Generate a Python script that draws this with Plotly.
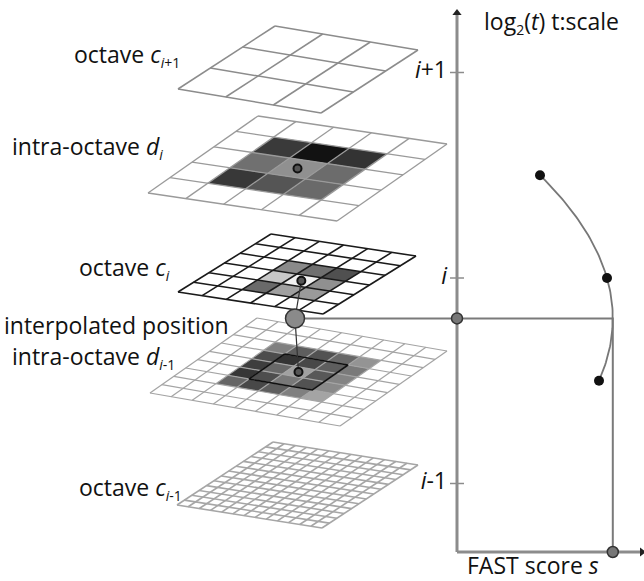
import numpy as np
import plotly.graph_objects as go

# ---------------- data ----------------
# keypoint detections: log2-scale offset (relative to octave i) and FAST score
scale_levels = [0.5, 0.0, -0.5]          # d_i, c_i, d_{i-1}
fast_scores = [83, 150, 142]

tick_vals = [-1, 0, 1]
tick_text = ["<i>i</i>-1", "<i>i</i>", "<i>i</i>+1"]


def sub(s):
    return f"<sub><span style='font-size:14px'>{s}</span></sub>"


layer_labels = [
    "octave <i>c</i>" + sub("<i>i</i>+1"),
    "intra-octave <i>d</i>" + sub("<i>i</i>"),
    "octave <i>c</i>" + sub("<i>i</i>"),
    "interpolated position",
    "intra-octave <i>d</i>" + sub("<i>i</i>-1"),
    "octave <i>c</i>" + sub("<i>i</i>-1"),
]
grid_sizes = [3, 5, 6, 9, 13]            # cells per side: c_{i+1}, d_i, c_i, d_{i-1}, c_{i-1}

# grey levels (0-255) of the neighbourhood cells around each detection
shade_di = [[0x3a, 0x12, 0x33],
            [0x70, 0x90, 0x6c],
            [0x38, 0x55, 0x6a]]
shade_ci = [[0x8a, 0x70, 0x50],
            [0xc8, 0xf0, 0x90],
            [0x6a, 0xa0, 0x9a]]
shade_dim1 = [[0x80, 0x5e, 0x52, 0x68, 0x94],
              [0x4c, 0x34, 0x48, 0x5e, 0x7a],
              [0x3e, 0x68, 0xa0, 0x58, 0x84],
              [0x36, 0x4e, 0x78, 0x52, 0x8a],
              [0x66, 0x48, 0x5e, 0x80, 0xa4]]

# ---------------- layout geometry (pixels) ----------------
W, H = 644, 581
X0_PIX = 457           # pixel of score 0 (vertical axis)
Y0_PIX = 278           # pixel of scale i
PX_PER_LEVEL = 205.5
Y_BOTTOM_PIX = 552
Y_TOP_PIX = 13
X_RIGHT_PIX = 640

x2_range = [-X0_PIX, W - X0_PIX]
y2_range = [-(H - Y0_PIX) / PX_PER_LEVEL, Y0_PIX / PX_PER_LEVEL]


def lvl_to_pix(v):
    return Y0_PIX - v * PX_PER_LEVEL


def pix_to_lvl(p):
    return (Y0_PIX - p) / PX_PER_LEVEL


# parallelogram grids: top corner, u edge, v edge, line colour, line width
grids = [
    dict(P=(275, 26), U=(143, 24), V=(-97, 63), col="#8c8c8c", lw=1.5),
    dict(P=(258, 116), U=(189, 28), V=(-110, 77), col="#9a9a9a", lw=1.3),
    dict(P=(271, 234), U=(145, 22), V=(-93, 58), col="#1a1a1a", lw=1.6),
    dict(P=(257, 318), U=(190, 33), V=(-107, 75), col="#a4a4a4", lw=1.2),
    dict(P=(273, 442), U=(145, 23), V=(-96, 63), col="#a6a6a6", lw=1.6),
]


def gpt(g, n, a, b):
    P, U, V = g["P"], g["U"], g["V"]
    return (P[0] + a / n * U[0] + b / n * V[0], P[1] + a / n * U[1] + b / n * V[1])


fig = go.Figure()
shapes = []


def add_cells(gi, shade, c0, r0):
    g = grids[gi]
    n = grid_sizes[gi]
    for r, row in enumerate(shade):
        for c, val in enumerate(row):
            a, b = c0 + c, r0 + r
            pts = [gpt(g, n, a, b), gpt(g, n, a + 1, b), gpt(g, n, a + 1, b + 1), gpt(g, n, a, b + 1)]
            path = "M " + " L ".join(f"{x:.2f},{y:.2f}" for x, y in pts) + " Z"
            shapes.append(dict(type="path", path=path, xref="x", yref="y",
                               fillcolor=f"rgb({val},{val},{val})", line=dict(width=0), layer="below"))


add_cells(1, shade_di, 1, 1)
add_cells(2, shade_ci, 2, 2)
add_cells(3, shade_dim1, 2, 2)

# grid lines
for gi, g in enumerate(grids):
    n = grid_sizes[gi]
    xs, ys = [], []
    for k in range(n + 1):
        p1, p2 = gpt(g, n, k, 0), gpt(g, n, k, n)
        xs += [p1[0], p2[0], None]
        ys += [p1[1], p2[1], None]
        p1, p2 = gpt(g, n, 0, k), gpt(g, n, n, k)
        xs += [p1[0], p2[0], None]
        ys += [p1[1], p2[1], None]
    fig.add_trace(go.Scatter(x=xs, y=ys, mode="lines", xaxis="x", yaxis="y",
                             line=dict(color=g["col"], width=g["lw"]), hoverinfo="skip"))

# black square around 3x3 neighbourhood in d_{i-1}
g = grids[3]
n = grid_sizes[3]
sq = [gpt(g, n, 3, 3), gpt(g, n, 6, 3), gpt(g, n, 6, 6), gpt(g, n, 3, 6), gpt(g, n, 3, 3)]
fig.add_trace(go.Scatter(x=[p[0] for p in sq], y=[p[1] for p in sq], mode="lines",
                         line=dict(color="#111111", width=1.6), hoverinfo="skip"))

# ---------------- parabola fit through the three scores ----------------
coef = np.polyfit(scale_levels, fast_scores, 2)   # s(level)
lvl_max = -coef[1] / (2 * coef[0])
s_max = np.polyval(coef, lvl_max)
lv = np.linspace(min(scale_levels), max(scale_levels), 80)
sv = np.polyval(coef, lv)

# detection centres on the grids
c_di = gpt(grids[1], 5, 2.5, 2.5)
c_ci = gpt(grids[2], 6, 3.5, 3.5)
c_dim1 = gpt(grids[3], 9, 4.5, 4.5)
big_x_pix = 295
big_y_pix = lvl_to_pix(lvl_max)

# connector through the layers
fig.add_trace(go.Scatter(x=[c_ci[0], big_x_pix, c_dim1[0]], y=[c_ci[1], big_y_pix, c_dim1[1]],
                         mode="lines", line=dict(color="#333333", width=1.2), hoverinfo="skip"))
fig.add_trace(go.Scatter(x=[c_di[0], c_ci[0], c_dim1[0]], y=[c_di[1], c_ci[1], c_dim1[1]],
                         mode="markers", marker=dict(size=8, color="#555555",
                                                     line=dict(color="#111111", width=2)),
                         hoverinfo="skip"))

# ---------------- chart (x2 / y2 : FAST score vs log2 scale) ----------------
ybot = pix_to_lvl(Y_BOTTOM_PIX)
ytop = pix_to_lvl(Y_TOP_PIX)
xright = X_RIGHT_PIX - X0_PIX
big_score = big_x_pix - X0_PIX
axis_col = "#8c8c8c"

# horizontal line from the interpolated position to the maximum and vertical drop
fig.add_trace(go.Scatter(x=[big_score, s_max, s_max], y=[lvl_max, lvl_max, ybot], xaxis="x2", yaxis="y2",
                         mode="lines", line=dict(color="#7a7a7a", width=2), hoverinfo="skip"))
# axes
fig.add_trace(go.Scatter(x=[0, 0, None, 0, xright], y=[ytop, ybot, None, ybot, ybot], xaxis="x2", yaxis="y2",
                         mode="lines", line=dict(color=axis_col, width=3), hoverinfo="skip"))
fig.add_trace(go.Scatter(x=[0], y=[ytop], xaxis="x2", yaxis="y2", mode="markers",
                         marker=dict(symbol="triangle-up", size=8, color="#222222"), hoverinfo="skip"))
fig.add_trace(go.Scatter(x=[xright + 2], y=[ybot], xaxis="x2", yaxis="y2", mode="markers",
                         marker=dict(symbol="triangle-right", size=8, color="#222222"), hoverinfo="skip"))
# ticks + labels
fig.add_trace(go.Scatter(x=[0] * len(tick_vals), y=tick_vals, xaxis="x2", yaxis="y2", mode="markers",
                         marker=dict(symbol="line-ew", size=10, line=dict(color=axis_col, width=1.5)),
                         hoverinfo="skip"))
fig.add_trace(go.Scatter(x=[-10] * len(tick_vals), y=tick_vals, xaxis="x2", yaxis="y2", mode="text",
                         text=tick_text, textposition="middle left",
                         textfont=dict(family="Open Sans", size=23, color="#111111"), hoverinfo="skip"))
# fitted curve
fig.add_trace(go.Scatter(x=sv, y=lv, xaxis="x2", yaxis="y2", mode="lines",
                         line=dict(color="#777777", width=1.8), hoverinfo="skip"))
# detections
fig.add_trace(go.Scatter(x=fast_scores, y=scale_levels, xaxis="x2", yaxis="y2", mode="markers",
                         marker=dict(size=10, color="#111111"), hoverinfo="skip"))
# markers at max projections
fig.add_trace(go.Scatter(x=[0, s_max], y=[lvl_max, ybot], xaxis="x2", yaxis="y2", mode="markers",
                         marker=dict(size=11, color="#777777", line=dict(color="#333333", width=1.5)),
                         hoverinfo="skip"))
fig.add_trace(go.Scatter(x=[big_score], y=[lvl_max], xaxis="x2", yaxis="y2", mode="markers",
                         marker=dict(size=19, color="#8a8a8a", line=dict(color="#333333", width=1.5)),
                         hoverinfo="skip"))

# ---------------- text ----------------
font = dict(family="Open Sans", size=23, color="#111111")
label_pos = [(73, 55), (11, 147), (78, 268), (3, 325), (11, 357), (78, 488)]
annotations = []
for (lx, ly), txt in zip(label_pos, layer_labels):
    annotations.append(dict(x=lx, y=ly, xref="x", yref="y", text=txt, showarrow=False,
                            xanchor="left", yanchor="middle", font=font, borderpad=0))
annotations.append(dict(x=483, y=22, xref="x", yref="y",
                        text="log" + sub("2") + "(<i>t</i>) t:scale",
                        showarrow=False, xanchor="left", yanchor="middle", font=font, borderpad=0))
annotations.append(dict(x=466, y=565, xref="x", yref="y", text="FAST score <i>s</i>",
                        showarrow=False, xanchor="left", yanchor="middle", font=font, borderpad=0))

fig.update_layout(
    width=W, height=H, margin=dict(l=0, r=0, t=0, b=0),
    paper_bgcolor="white", plot_bgcolor="white", showlegend=False,
    xaxis=dict(range=[0, W], visible=False, fixedrange=True),
    yaxis=dict(range=[H, 0], visible=False, fixedrange=True),
    xaxis2=dict(range=x2_range, visible=False, overlaying="x", fixedrange=True),
    yaxis2=dict(range=y2_range, visible=False, overlaying="y", fixedrange=True),
    shapes=shapes, annotations=annotations,
)

fig.write_html("out.html", config={"displayModeBar": False},
               post_script="document.body.style.margin='0';document.body.style.overflow='hidden';")
